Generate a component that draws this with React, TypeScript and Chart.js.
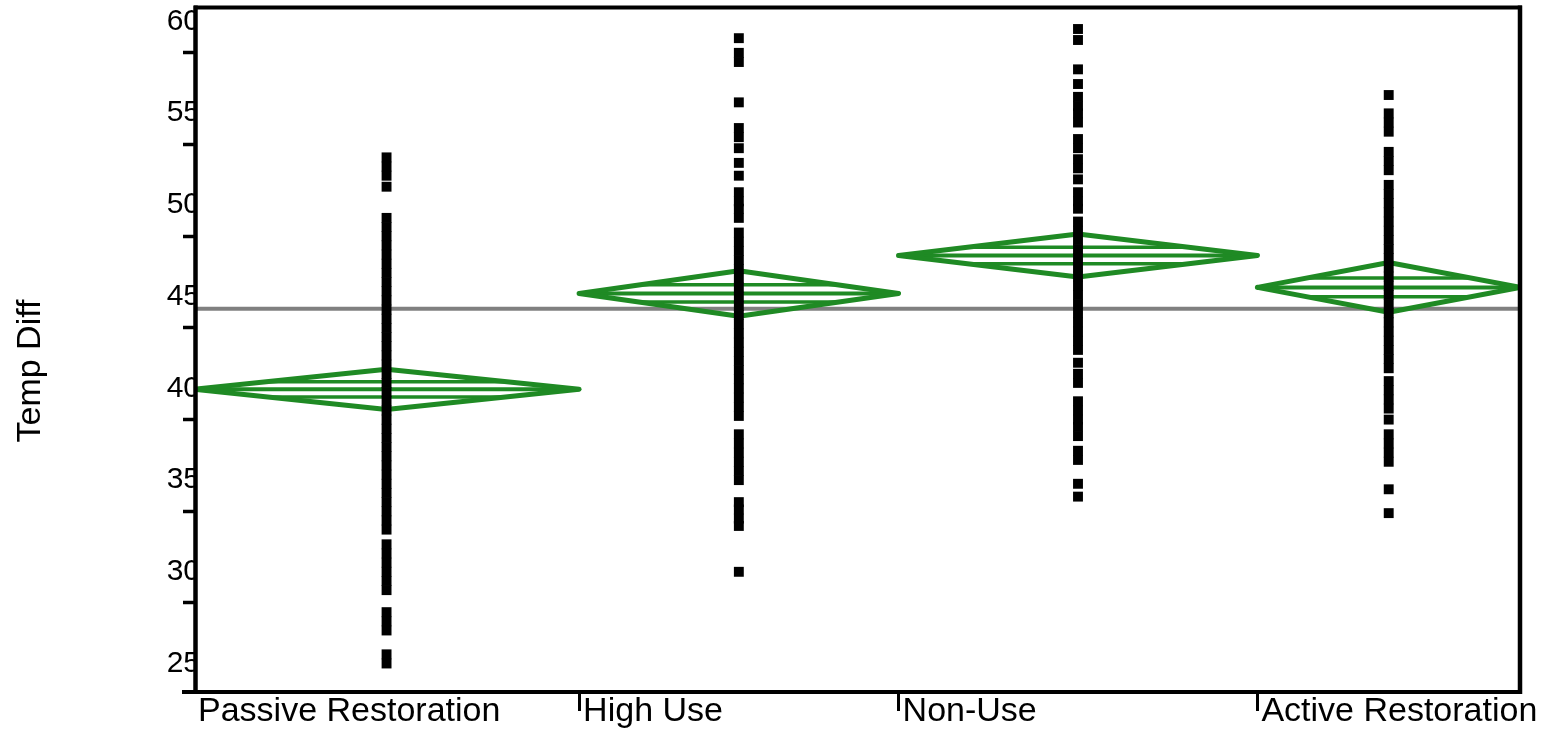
import React, { useEffect, useRef } from 'react';
import { Chart, registerables } from 'chart.js';

Chart.register(...registerables);

// Groups along the x axis; each group's width on the axis is proportional to its size.
const categories = ['Passive Restoration', 'High Use', 'Non-Use', 'Active Restoration'];
const groupSizes = [88, 73, 82, 60];

// Group means and 95% confidence half-widths (means diamonds).
const groupMeans = [39.15, 44.38, 46.45, 44.71];
const meanCIHalfWidths = [1.1, 1.24, 1.17, 1.36];
const grandMean = 43.55;

// Observed Temp Diff values (distinct values per group).
const passiveRestoration = [
  51.8, 51.3, 50.8, 50.2,
  48.5, 48, 47.5, 47, 46.5, 46, 45.5, 45, 44.5, 44, 43.5, 43, 42.5, 42, 41.5, 41,
  40.5, 40, 39.5, 39, 38.5, 38, 37.5, 37, 36.5, 36, 35.5, 35, 34.5, 34, 33.5, 33,
  32.5, 32, 31.5,
  30.7, 30.2, 29.7, 29.2, 28.7, 28.2,
  27.0, 26.5, 26.0,
  24.7, 24.2,
];
const highUse = [
  58.3, 57.5, 57.0, 54.8, 53.4, 52.9, 52.3, 51.5, 50.8, 49.9, 49.4, 49.0, 48.5,
  47.7, 47.2, 46.7, 46.2, 45.7, 45.2, 44.7, 44.2, 43.7, 43.2, 42.7, 42.2, 41.7,
  41.2, 40.7, 40.2, 39.7, 39.2, 38.7, 38.2, 37.7,
  36.7, 36.2, 35.7, 35.2, 34.7, 34.2,
  33.0, 32.6, 32.1, 31.7,
  29.2,
];
const nonUse = [
  58.8, 58.2, 56.6, 55.8, 55.1, 54.6, 54.2, 53.7, 52.8, 52.3, 51.7, 51.2, 50.6,
  49.9, 49.4, 49.0, 48.3, 47.8, 47.3, 46.8, 46.3, 45.8, 45.3, 44.8, 44.3, 43.8,
  43.3, 42.8, 42.3, 41.8, 41.3, 40.6, 40.0, 39.5,
  38.5, 38.0, 37.5, 37.1, 36.6,
  35.8, 35.3,
  34.0, 33.3,
];
const activeRestoration = [
  55.2, 54.2, 53.7, 53.2, 52.1, 51.6, 51.1,
  50.3, 49.8, 49.3, 48.8, 48.3, 47.8, 47.3, 46.8, 46.3, 45.8, 45.3, 44.8, 44.3,
  43.8, 43.3, 42.8, 42.3, 41.8, 41.3, 40.8, 40.3,
  39.6, 39.1, 38.6, 38.1, 37.5,
  36.7, 36.2, 35.7, 35.2,
  33.7, 32.4,
];

// Y axis
const yMin = 22.7;
const yMax = 60;
const yMajorTicks = [25, 30, 35, 40, 45, 50, 55, 60];
const yMinorTicks = [27.5, 32.5, 37.5, 42.5, 47.5, 52.5, 57.5];
const yTitle = 'Temp Diff';

const FONT = '"Liberation Sans", Arial, Helvetica, sans-serif';
const GREEN = '#1f8a24';
const OVERLAP_FRACTION = 0.38;

export default function App() {
  const canvasRef = useRef<HTMLCanvasElement>(null);

  useEffect(() => {
    const canvas = canvasRef.current;
    if (!canvas) return;

    const groups = [passiveRestoration, highUse, nonUse, activeRestoration];
    const starts = groupSizes.map((_, i) => groupSizes.slice(0, i).reduce((a, b) => a + b, 0));
    const total = groupSizes.reduce((a, b) => a + b, 0);

    const datasets: any[] = [];

    // Individual observations, stacked at each group's centre
    datasets.push({
      label: 'Temp Diff',
      data: groups.flatMap((vals, g) =>
        vals.map((v) => ({ x: starts[g] + groupSizes[g] / 2, y: v }))
      ),
      pointStyle: 'rect',
      pointRadius: 7,
      pointBackgroundColor: '#000',
      pointBorderWidth: 0,
      showLine: false,
      order: 0,
    });

    // Means diamonds with mean line and overlap marks
    const seg = (data: { x: number; y: number }[], width: number) => ({
      data,
      showLine: true,
      borderColor: GREEN,
      borderWidth: width,
      borderJoinStyle: 'round',
      borderCapStyle: 'round',
      pointRadius: 0,
      fill: false,
      tension: 0,
      order: 1,
    });
    groups.forEach((_, g) => {
      const s = starts[g];
      const e = s + groupSizes[g];
      const c = (s + e) / 2;
      const m = groupMeans[g];
      const h = meanCIHalfWidths[g];
      datasets.push(
        seg(
          [
            { x: s, y: m },
            { x: c, y: m + h },
            { x: e, y: m },
            { x: c, y: m - h },
            { x: s, y: m },
          ],
          5
        )
      );
      datasets.push(seg([{ x: s, y: m }, { x: e, y: m }], 4));
      const d = h * OVERLAP_FRACTION;
      const hw = ((1 - OVERLAP_FRACTION) * (e - s)) / 2;
      datasets.push(seg([{ x: c - hw, y: m + d }, { x: c + hw, y: m + d }], 3.5));
      datasets.push(seg([{ x: c - hw, y: m - d }, { x: c + hw, y: m - d }], 3.5));
    });

    // Grand mean reference line
    datasets.push({
      data: [
        { x: 0, y: grandMean },
        { x: total, y: grandMean },
      ],
      showLine: true,
      borderColor: '#808080',
      borderWidth: 4,
      pointRadius: 0,
      fill: false,
      order: 2,
    });

    const framePlugin = {
      id: 'frameAndTitle',
      beforeDatasetsDraw(chart: any) {
        const { ctx, chartArea: a } = chart;
        ctx.save();
        ctx.fillStyle = '#fff';
        ctx.fillRect(a.left, a.top, a.right - a.left, a.bottom - a.top);
        ctx.restore();
      },
      afterDraw(chart: any) {
        const { ctx, chartArea: a } = chart;
        ctx.save();
        ctx.strokeStyle = '#000';
        ctx.lineCap = 'butt';
        ctx.lineWidth = 4.5;
        // left axis
        ctx.beginPath();
        ctx.moveTo(a.left + 1.5, a.top - 1.5);
        ctx.lineTo(a.left + 1.5, a.bottom + 3);
        ctx.stroke();
        // right border
        ctx.beginPath();
        ctx.moveTo(a.right, a.top - 1.5);
        ctx.lineTo(a.right, a.bottom + 3);
        ctx.stroke();
        ctx.lineWidth = 4;
        // top border
        ctx.beginPath();
        ctx.moveTo(a.left, a.top + 0.5);
        ctx.lineTo(a.right + 2, a.top + 0.5);
        ctx.stroke();
        // bottom axis
        ctx.beginPath();
        ctx.moveTo(a.left - 12, a.bottom + 1);
        ctx.lineTo(a.right + 2, a.bottom + 1);
        ctx.stroke();

        // y axis title
        ctx.translate(31, 371);
        ctx.rotate(-Math.PI / 2);
        ctx.fillStyle = '#000';
        ctx.font = `34px ${FONT}`;
        ctx.textAlign = 'center';
        ctx.textBaseline = 'middle';
        ctx.fillText(yTitle, 0, 0);
        ctx.restore();
      },
    };

    const chart = new Chart(canvas, {
      type: 'scatter',
      data: { datasets },
      options: {
        animation: false,
        responsive: false,
        layout: { padding: { top: 6, right: 35, bottom: 0, left: 0 } },
        plugins: {
          legend: { display: false },
          tooltip: { enabled: false },
        },
        scales: {
          x: {
            type: 'linear',
            min: 0,
            max: total,
            afterBuildTicks: (s: any) => {
              s.ticks = starts.map((v) => ({ value: v }));
            },
            afterFit: (s: any) => {
              s.height = 47;
              s.paddingLeft = 0;
              s.paddingRight = 0;
            },
            ticks: {
              autoSkip: false,
              maxRotation: 0,
              minRotation: 0,
              align: 'start',
              labelOffset: 4,
              padding: -20,
              color: '#000',
              font: { family: FONT, size: 34 },
              callback: (_v: any, i: number) => categories[i],
            },
            grid: {
              drawOnChartArea: false,
              drawTicks: true,
              tickLength: 20,
              tickWidth: 3,
              tickColor: (ctx: any) =>
                ctx.tick && ctx.tick.value === 0 ? 'rgba(0,0,0,0)' : '#000',
            },
            border: { display: false },
          },
          y: {
            type: 'linear',
            min: yMin,
            max: yMax,
            afterBuildTicks: (s: any) => {
              s.ticks = [...yMajorTicks, ...yMinorTicks]
                .sort((a, b) => a - b)
                .map((v) => ({ value: v }));
            },
            afterFit: (s: any) => {
              s.width = 194;
              s.paddingTop = 0;
              s.paddingBottom = 0;
            },
            ticks: {
              padding: -17,
              labelOffset: 14.5,
              color: '#000',
              font: { family: FONT, size: 30 },
              callback: (v: any) => (yMajorTicks.includes(v) ? String(v) : ''),
            },
            grid: {
              drawOnChartArea: false,
              drawTicks: true,
              tickLength: 11,
              tickWidth: 3.5,
              tickColor: (ctx: any) =>
                ctx.tick && yMajorTicks.includes(ctx.tick.value) ? 'rgba(0,0,0,0)' : '#000',
            },
            border: { display: false },
          },
        },
      },
      plugins: [framePlugin],
    } as any);

    return () => chart.destroy();
  }, []);

  return (
    <div
      style={{
        position: 'fixed',
        left: 0,
        top: 0,
        width: 1555,
        height: 738,
        background: '#fff',
      }}
    >
      <canvas ref={canvasRef} width={1555} height={738} />
    </div>
  );
}
